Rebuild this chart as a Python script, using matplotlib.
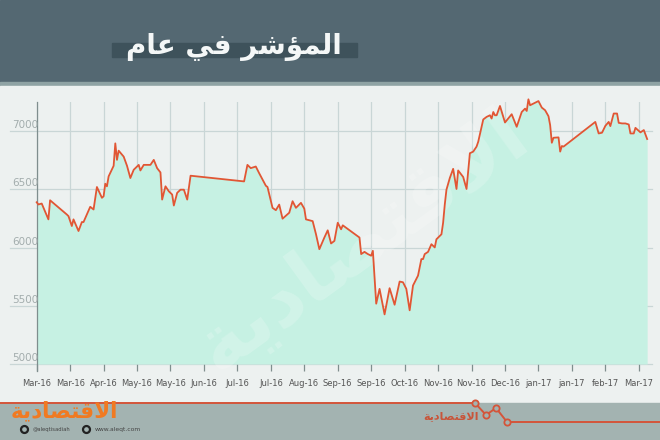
import pandas as pd
import matplotlib
matplotlib.use("Agg")
import matplotlib.pyplot as plt
from matplotlib.patches import Rectangle
from matplotlib.transforms import blended_transform_factory

# index level, day offsets counted from the first tick
START_DATE = "2016-03-07"
day_offset = [
    0, 1, 3, 7, 8, 18, 19, 21, 22, 25, 27, 28, 32, 34, 36, 39, 40, 41, 42, 43,
    46, 47, 48, 49, 52, 54, 56, 58, 61, 62, 64, 68, 70, 72, 74, 75, 77, 79, 81, 82,
    84, 86, 88, 90, 92, 124, 126, 128, 131, 133, 137, 138, 141, 143, 145, 147, 151, 153, 155, 158,
    160, 161, 165, 167, 169, 172, 174, 176, 178, 180, 182, 183, 193, 194, 196, 198, 200, 201, 203, 205,
    208, 211, 214, 217, 219, 221, 223, 225, 228, 230, 231, 232, 234, 236, 238, 239, 242, 243, 244, 245,
    247, 249, 251, 252, 255, 257, 259, 261, 263, 264, 267, 269, 271, 272, 273, 274, 275, 277, 280, 284,
    287, 290, 292, 293, 294, 295, 300, 302, 304, 306, 307, 308, 309, 312, 313, 314, 315, 334, 336, 338,
    340, 342, 343, 345, 347, 348, 350, 352, 354, 355, 357, 358, 361, 363, 365,
]
index_value = [
    6389, 6370, 6378, 6242, 6406, 6284, 6270, 6185, 6242, 6142, 6219, 6219, 6350, 6327, 6520, 6427, 6440, 6548, 6526, 6611,
    6702, 6895, 6753, 6832, 6781, 6702, 6597, 6668, 6710, 6662, 6710, 6710, 6753, 6682, 6645, 6412, 6526, 6483, 6455, 6361,
    6470, 6497, 6497, 6412, 6617, 6568, 6710, 6682, 6696, 6639, 6531, 6520, 6341, 6321, 6369, 6248, 6299, 6398, 6341, 6384,
    6334, 6242, 6227, 6114, 5986, 6086, 6148, 6035, 6057, 6213, 6157, 6191, 6086, 5944, 5963, 5944, 5930, 5972, 5518, 5645,
    5426, 5651, 5509, 5708, 5702, 5645, 5461, 5674, 5759, 5901, 5901, 5944, 5963, 6029, 6001, 6071, 6114, 6213, 6370, 6497,
    6597, 6676, 6503, 6662, 6606, 6503, 6810, 6824, 6867, 6909, 7100, 7122, 7136, 7108, 7164, 7136, 7136, 7216, 7074, 7145,
    7037, 7164, 7193, 7173, 7273, 7222, 7258, 7202, 7179, 7128, 7051, 6900, 6943, 6946, 6824, 6872, 6867, 7079, 6980, 6986,
    7045, 7079, 7043, 7151, 7151, 7071, 7066, 7066, 7057, 6980, 6980, 7028, 6989, 7009, 6932,
]

tick_step_days = 20
tick_labels = [
    "Mar-16", "Mar-16", "Apr-16", "May-16", "May-16", "Jun-16", "Jul-16", "Jul-16",
    "Aug-16", "Sep-16", "Sep-16", "Oct-16", "Nov-16", "Nov-16", "Dec-16", "jan-17",
    "jan-17", "feb-17", "Mar-17",
]
y_ticks = [5000, 5500, 6000, 6500, 7000]

# Arabic text in presentation forms, visual order (matplotlib has no shaping)
TITLE = "\uFEE1\uFE8E\uFECB \uFEF2\uFED3 \uFEAE\uFEB7\uFE86\uFEE4\uFEDF\uFE8D"
BRAND = "\uFE94\uFEF3\uFEA9\uFE8E\uFEBC\uFE98\uFED7\uFEFB\uFE8D"

W, H = 660, 440
HEADER = "#546872"
STRIP = "#8fa3a4"
PANEL = "#edf1f0"
FOOTER = "#a3b3b1"
RED = "#e15634"
FILL = "#c6f1e3"
GRID = "#c9d6d6"
AXIS = "#7f8e8e"


def draw_frame(fig):
    bg = fig.add_axes([0, 0, 1, 1], zorder=0)
    bg.set_xlim(0, W)
    bg.set_ylim(H, 0)
    bg.axis("off")

    bg.add_patch(Rectangle((0, 0), W, 82, color=HEADER))
    bg.add_patch(Rectangle((0, 82), W, 4, color=STRIP))
    bg.add_patch(Rectangle((0, 86), W, 318, color=PANEL))
    bg.add_patch(Rectangle((0, 403), W, 37, color=FOOTER))

    # title bar + title
    bg.add_patch(Rectangle((112, 43), 245, 14, color="#3e525b"))
    bg.text(234, 47, TITLE, color="#f4f7f7", fontsize=20, fontweight="bold",
            family="DejaVu Sans", ha="center", va="center")

    # footer line with the small zig-zag
    bg.plot([0, 475, 486, 496, 507, W], [403, 403, 415, 408, 422, 422],
            color="#d4553a", lw=1.4, solid_joinstyle="miter")
    bg.plot([475, 486, 496, 507], [403, 415, 408, 422], ls="none", marker="o",
            ms=4.5, mfc=FOOTER, mec="#d4553a", mew=1.3)

    # logos
    bg.text(64, 411, BRAND, color="#f07a22", fontsize=15.5, fontweight="bold",
            family="DejaVu Sans", ha="center", va="center")
    bg.text(451, 416, BRAND, color="#c8553a", fontsize=8, fontweight="bold",
            family="DejaVu Sans", ha="center", va="center")
    bg.plot([24, 86], [429, 429], ls="none", marker="o", ms=5, mfc="none",
            mec="#222222", mew=1.6)
    bg.text(33, 429, "@aleqtisadiah", color="#444444", fontsize=3.8,
            ha="left", va="center")
    bg.text(95, 429, "www.aleqt.com", color="#444444", fontsize=4.3,
            ha="left", va="center")


def main():
    dates = pd.to_datetime(START_DATE) + pd.to_timedelta(day_offset, unit="D")
    tick_dates = pd.to_datetime(START_DATE) + pd.to_timedelta(
        [i * tick_step_days for i in range(len(tick_labels))], unit="D")

    fig = plt.figure(figsize=(W / 100, H / 100), dpi=100)
    draw_frame(fig)

    left, right, top, bottom = 36.7, 650, 102, 364
    ax = fig.add_axes([left / W, (H - bottom) / H, (right - left) / W, (bottom - top) / H],
                      zorder=2)
    ax.patch.set_alpha(0)

    x0 = pd.to_datetime(START_DATE)
    ax.set_xlim(x0, x0 + pd.Timedelta(days=366.7))
    ax.set_ylim(5000, 7250)

    # grid
    for t in tick_dates:
        ax.axvline(t, color=GRID, lw=0.9, zorder=1)
    for v in y_ticks:
        ax.axhline(v, xmin=-0.043, xmax=1.003, color=GRID, lw=0.9, zorder=1, clip_on=False)

    ax.fill_between(dates, index_value, 5000, color=FILL, lw=0, zorder=2, clip_on=False)
    ax.plot(dates, index_value, color=RED, lw=1.3, zorder=4, clip_on=False)

    # faint watermark
    ax.text(0.53, 0.47, BRAND, transform=ax.transAxes, color="white", alpha=0.2,
            fontsize=56, fontweight="bold", family="DejaVu Sans",
            rotation=36, ha="center", va="center", zorder=3)

    ax.set_xticks(tick_dates)
    ax.set_xticklabels(tick_labels, fontsize=6, color="#555555",
                       family=["Liberation Sans Narrow", "DejaVu Sans"])
    ax.tick_params(axis="x", length=5, width=0.9, color=AXIS, pad=6)
    ax.set_yticks([])

    trans = blended_transform_factory(ax.transAxes, ax.transData)
    for v in y_ticks:
        ax.text(-0.040, v + 8, str(v), transform=trans, fontsize=7.5, color="#a3adad",
                ha="left", va="bottom")

    for side in ["top", "right", "bottom"]:
        ax.spines[side].set_visible(False)
    ax.spines["left"].set_color(AXIS)
    ax.spines["left"].set_linewidth(0.9)
    ax.spines["left"].set_bounds(4940, 7250)

    fig.savefig("out.png", dpi=100)
    plt.close(fig)


if __name__ == "__main__":
    main()
